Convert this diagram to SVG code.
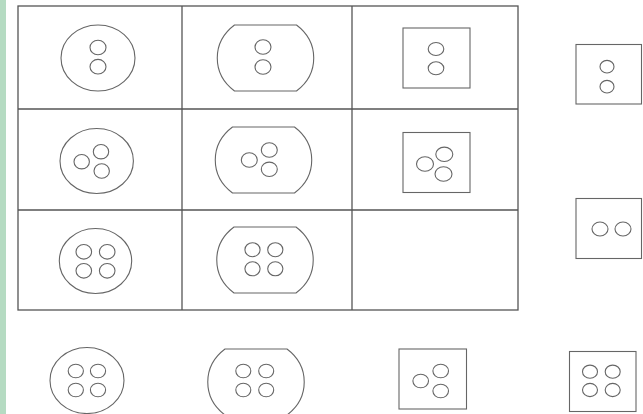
<svg xmlns="http://www.w3.org/2000/svg" xmlns:xlink="http://www.w3.org/1999/xlink" width="643" height="414" viewBox="0 0 643 414">
<style>
.grid{fill:none;stroke:#555;stroke-width:1.3}
.sh{fill:none;stroke:#666;stroke-width:1.1}
.h{fill:none;stroke:#666;stroke-width:1.1}
</style>
<defs>
<path id="cut" d="M-31,-33 L31,-33 A48,43 0 0 1 31,33 L-31,33 A48,43 0 0 1 -31,-33 Z"/>
</defs>
<rect width="643" height="414" fill="#fff"/>
<rect x="0" y="0" width="6" height="414" fill="#b5dbc2"/>
<g id="grid" class="grid">
<rect x="18" y="6" width="500" height="304"/>
<line x1="182" y1="6" x2="182" y2="310"/>
<line x1="352" y1="6" x2="352" y2="310"/>
<line x1="18" y1="109" x2="518" y2="109"/>
<line x1="18" y1="210" x2="518" y2="210"/>
</g>
<g id="r1c1">
<ellipse class="sh" cx="98" cy="58" rx="37" ry="33"/>
<ellipse class="h" cx="98" cy="47.5" rx="8" ry="7.3"/>
<ellipse class="h" cx="98" cy="66.7" rx="8" ry="7.3"/>
</g>
<g id="r1c2">
<use href="#cut" xlink:href="#cut" class="sh" transform="translate(265.5,58)"/>
<ellipse class="h" cx="263" cy="47" rx="8" ry="7.3"/>
<ellipse class="h" cx="263" cy="67" rx="8" ry="7.3"/>
</g>
<g id="r1c3">
<rect class="sh" x="403" y="28" width="67" height="60"/>
<ellipse class="h" cx="436" cy="49" rx="7.8" ry="6.5"/>
<ellipse class="h" cx="436" cy="68.3" rx="7.8" ry="6.5"/>
</g>
<g id="r1side">
<rect class="sh" x="576" y="44.5" width="65.5" height="59.5"/>
<ellipse class="h" cx="607" cy="66.7" rx="7" ry="6.3"/>
<ellipse class="h" cx="607" cy="86.7" rx="7" ry="6.3"/>
</g>
<g id="r2c1">
<ellipse class="sh" cx="96.7" cy="161" rx="36.7" ry="32.5"/>
<ellipse class="h" cx="81.7" cy="161.7" rx="7.7" ry="7.2"/>
<ellipse class="h" cx="101" cy="151.7" rx="7.7" ry="7.2"/>
<ellipse class="h" cx="101.7" cy="171" rx="7.7" ry="7.2"/>
</g>
<g id="r2c2">
<use href="#cut" xlink:href="#cut" class="sh" transform="translate(263.5,160)"/>
<ellipse class="h" cx="249.3" cy="160" rx="8" ry="7.2"/>
<ellipse class="h" cx="269.3" cy="150" rx="8" ry="7.2"/>
<ellipse class="h" cx="269.3" cy="169.3" rx="8" ry="7.2"/>
</g>
<g id="r2c3">
<rect class="sh" x="403" y="132.5" width="67" height="60"/>
<ellipse class="h" cx="425" cy="164" rx="8.5" ry="7.2"/>
<ellipse class="h" cx="444.3" cy="154.3" rx="8.5" ry="7.2"/>
<ellipse class="h" cx="443.5" cy="174" rx="8.5" ry="7.2"/>
</g>
<g id="r2side">
<rect class="sh" x="576" y="198.5" width="65.5" height="60"/>
<ellipse class="h" cx="600" cy="229" rx="8" ry="7"/>
<ellipse class="h" cx="623" cy="229" rx="8" ry="7"/>
</g>
<g id="r3c1">
<ellipse class="sh" cx="95.5" cy="261" rx="36.2" ry="32.5"/>
<ellipse class="h" cx="83.8" cy="251.8" rx="7.8" ry="7.3"/>
<ellipse class="h" cx="107.2" cy="251.8" rx="7.8" ry="7.3"/>
<ellipse class="h" cx="83.8" cy="270.8" rx="7.8" ry="7.3"/>
<ellipse class="h" cx="107.2" cy="270.8" rx="7.8" ry="7.3"/>
</g>
<g id="r3c2">
<use href="#cut" xlink:href="#cut" class="sh" transform="translate(265,260)"/>
<ellipse class="h" cx="252.5" cy="249.7" rx="7.6" ry="7"/>
<ellipse class="h" cx="275.3" cy="249.7" rx="7.6" ry="7"/>
<ellipse class="h" cx="252.5" cy="268.8" rx="7.6" ry="7"/>
<ellipse class="h" cx="275.3" cy="268.8" rx="7.6" ry="7"/>
</g>
<g id="opt1">
<ellipse class="sh" cx="87" cy="380.5" rx="37" ry="33"/>
<ellipse class="h" cx="75.8" cy="371" rx="7.6" ry="6.8"/>
<ellipse class="h" cx="98" cy="371" rx="7.6" ry="6.8"/>
<ellipse class="h" cx="75.8" cy="390" rx="7.6" ry="6.8"/>
<ellipse class="h" cx="98" cy="390" rx="7.6" ry="6.8"/>
</g>
<g id="opt2">
<use href="#cut" xlink:href="#cut" class="sh" transform="translate(256,382)"/>
<ellipse class="h" cx="243.3" cy="371" rx="7.5" ry="6.8"/>
<ellipse class="h" cx="266.2" cy="371" rx="7.5" ry="6.8"/>
<ellipse class="h" cx="243.3" cy="390" rx="7.5" ry="6.8"/>
<ellipse class="h" cx="266.2" cy="390" rx="7.5" ry="6.8"/>
</g>
<g id="opt3">
<rect class="sh" x="399" y="349" width="67.5" height="60"/>
<ellipse class="h" cx="420.7" cy="381" rx="7.8" ry="6.8"/>
<ellipse class="h" cx="440.7" cy="371" rx="7.8" ry="6.8"/>
<ellipse class="h" cx="440.7" cy="391" rx="7.8" ry="6.8"/>
</g>
<g id="opt4">
<rect class="sh" x="569.5" y="351.5" width="66.5" height="60"/>
<ellipse class="h" cx="590" cy="371.7" rx="7.5" ry="6.6"/>
<ellipse class="h" cx="612.7" cy="371.7" rx="7.5" ry="6.6"/>
<ellipse class="h" cx="590" cy="390" rx="7.5" ry="6.6"/>
<ellipse class="h" cx="612.7" cy="390" rx="7.5" ry="6.6"/>
</g>
</svg>
